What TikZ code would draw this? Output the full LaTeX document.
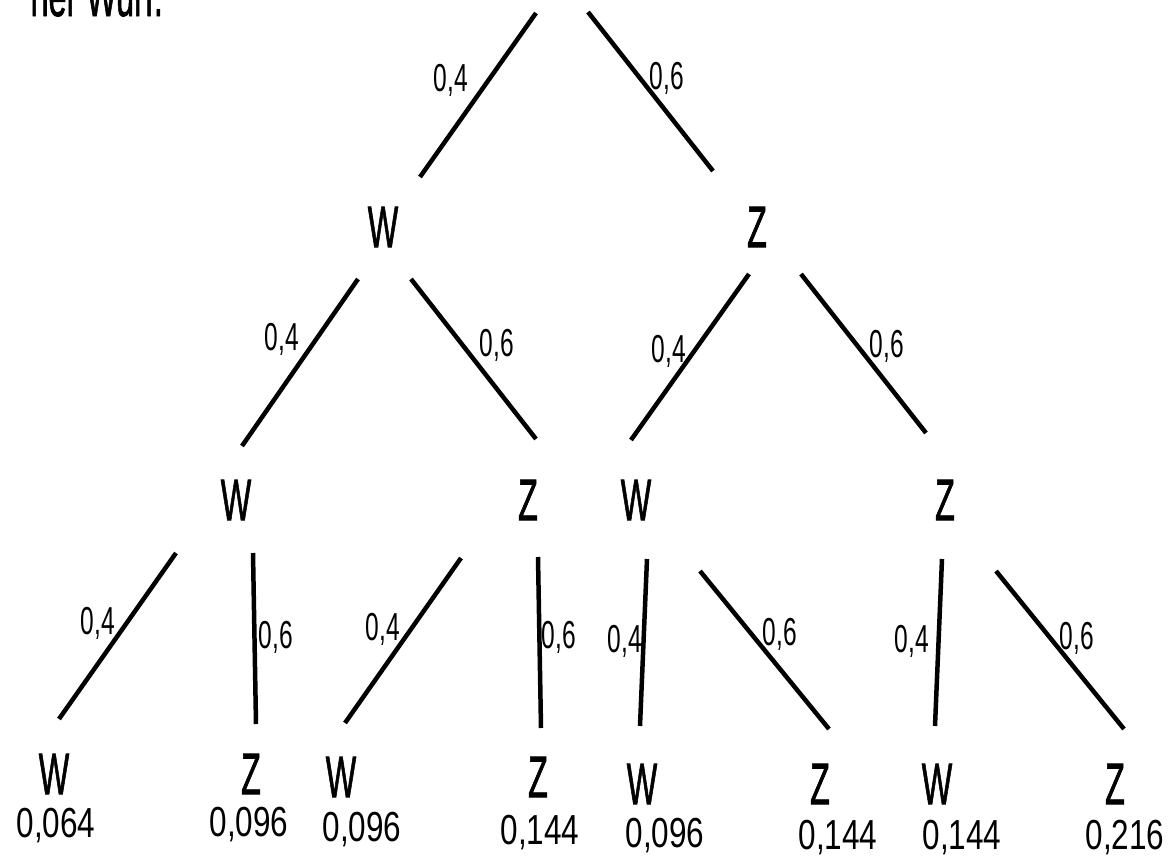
\documentclass[tikz,border=0pt]{standalone}
\usepackage{graphicx}
\usepackage{fontspec}
\setmainfont{Liberation Sans}
\newfontfamily\ltrfont[FakeBold=1.6]{Liberation Sans}
\newcommand{\Ltr}[1]{\scalebox{0.55}[1]{#1}}
\newcommand{\Hnd}[1]{\scalebox{0.63}[1]{#1}}
\newcommand{\Prb}[1]{\scalebox{0.75}[1]{#1}}
\begin{document}
\begin{tikzpicture}[x=1pt,y=-1pt,
  branch/.style={line width=4.5pt},
  letter/.style={inner sep=0pt,font=\ltrfont\fontsize{58.7}{60}\selectfont},
  hand/.style={inner sep=0pt,font=\fontsize{39}{40}\selectfont},
  prob/.style={inner sep=0pt,font=\fontsize{42}{44}\selectfont}]
\useasboundingbox (0,0) rectangle (1168,857);
\clip (0,0) rectangle (1168,857);
% title (cut off at the top)
\node[letter,anchor=base east] (title) at (163,16) {\Ltr{ner Wurf.}};
% level 1
\node[letter] (w1) at (383,227) {\Ltr{W}};
\node[letter] (z1) at (757,227) {\Ltr{Z}};
% level 2
\node[letter] (ww) at (236,500) {\Ltr{W}};
\node[letter] (wz) at (528,500) {\Ltr{Z}};
\node[letter] (zw) at (636,500) {\Ltr{W}};
\node[letter] (zz) at (945,500) {\Ltr{Z}};
% level 3
\node[letter] (www) at (54,774) {\Ltr{W}};
\node[letter] (wwz) at (251,774) {\Ltr{Z}};
\node[letter] (wzw) at (341,777) {\Ltr{W}};
\node[letter] (wzz) at (538,777) {\Ltr{Z}};
\node[letter] (zww) at (642,784) {\Ltr{W}};
\node[letter] (zwz) at (820,784) {\Ltr{Z}};
\node[letter] (zzw) at (937,784) {\Ltr{W}};
\node[letter] (zzz) at (1115,784) {\Ltr{Z}};
% probabilities
\node[prob] (pwww) at (56,826) {\Prb{0,064}};
\node[prob] (pwwz) at (249,825) {\Prb{0,096}};
\node[prob] (pwzw) at (362,830) {\Prb{0,096}};
\node[prob] (pwzz) at (540,833) {\Prb{0,144}};
\node[prob] (pzww) at (665,836) {\Prb{0,096}};
\node[prob] (pzwz) at (838,838) {\Prb{0,144}};
\node[prob] (pzzw) at (962,838) {\Prb{0,144}};
\node[prob] (pzzz) at (1125,838) {\Prb{0,216}};
% branch end points
\coordinate (a1) at (536,13);  \coordinate (b1) at (420,177);
\coordinate (a2) at (588,12);  \coordinate (b2) at (713,171);
\coordinate (a3) at (358,279); \coordinate (b3) at (242,446);
\coordinate (a4) at (411,279); \coordinate (b4) at (536,439);
\coordinate (a5) at (749,274); \coordinate (b5) at (631,440);
\coordinate (a6) at (801,274); \coordinate (b6) at (926,433);
\coordinate (a7) at (176,553); \coordinate (b7) at (59,719);
\coordinate (a8) at (253,553); \coordinate (b8) at (256,724);
\coordinate (a9) at (461,558); \coordinate (b9) at (345,723);
\coordinate (a10) at (538,557); \coordinate (b10) at (541,728);
\coordinate (a11) at (647,559); \coordinate (b11) at (640,726);
\coordinate (a12) at (700,571); \coordinate (b12) at (829,729);
\coordinate (a13) at (942,559); \coordinate (b13) at (935,726);
\coordinate (a14) at (996,571); \coordinate (b14) at (1124,729);
\foreach \i in {1,...,14} \draw[branch] (a\i) -- (b\i);
% branch labels
\node[hand] (l1) at (451,80) {\Hnd{0,4}};
\node[hand] (l2) at (667,78) {\Hnd{0,6}};
\node[hand] (l3) at (282,339) {\Hnd{0,4}};
\node[hand] (l4) at (497,345) {\Hnd{0,6}};
\node[hand] (l5) at (669,351) {\Hnd{0,4}};
\node[hand] (l6) at (887,346) {\Hnd{0,6}};
\node[hand] (l7) at (98,623) {\Hnd{0,4}};
\node[hand] (l8) at (276,637) {\Hnd{0,6}};
\node[hand] (l9) at (383,629) {\Hnd{0,4}};
\node[hand] (l10) at (559,637) {\Hnd{0,6}};
\node[hand] (l11) at (625,641) {\Hnd{0,4}};
\node[hand] (l12) at (780,634) {\Hnd{0,6}};
\node[hand] (l13) at (912,641) {\Hnd{0,4}};
\node[hand] (l14) at (1077,638) {\Hnd{0,6}};
\end{tikzpicture}
\end{document}
